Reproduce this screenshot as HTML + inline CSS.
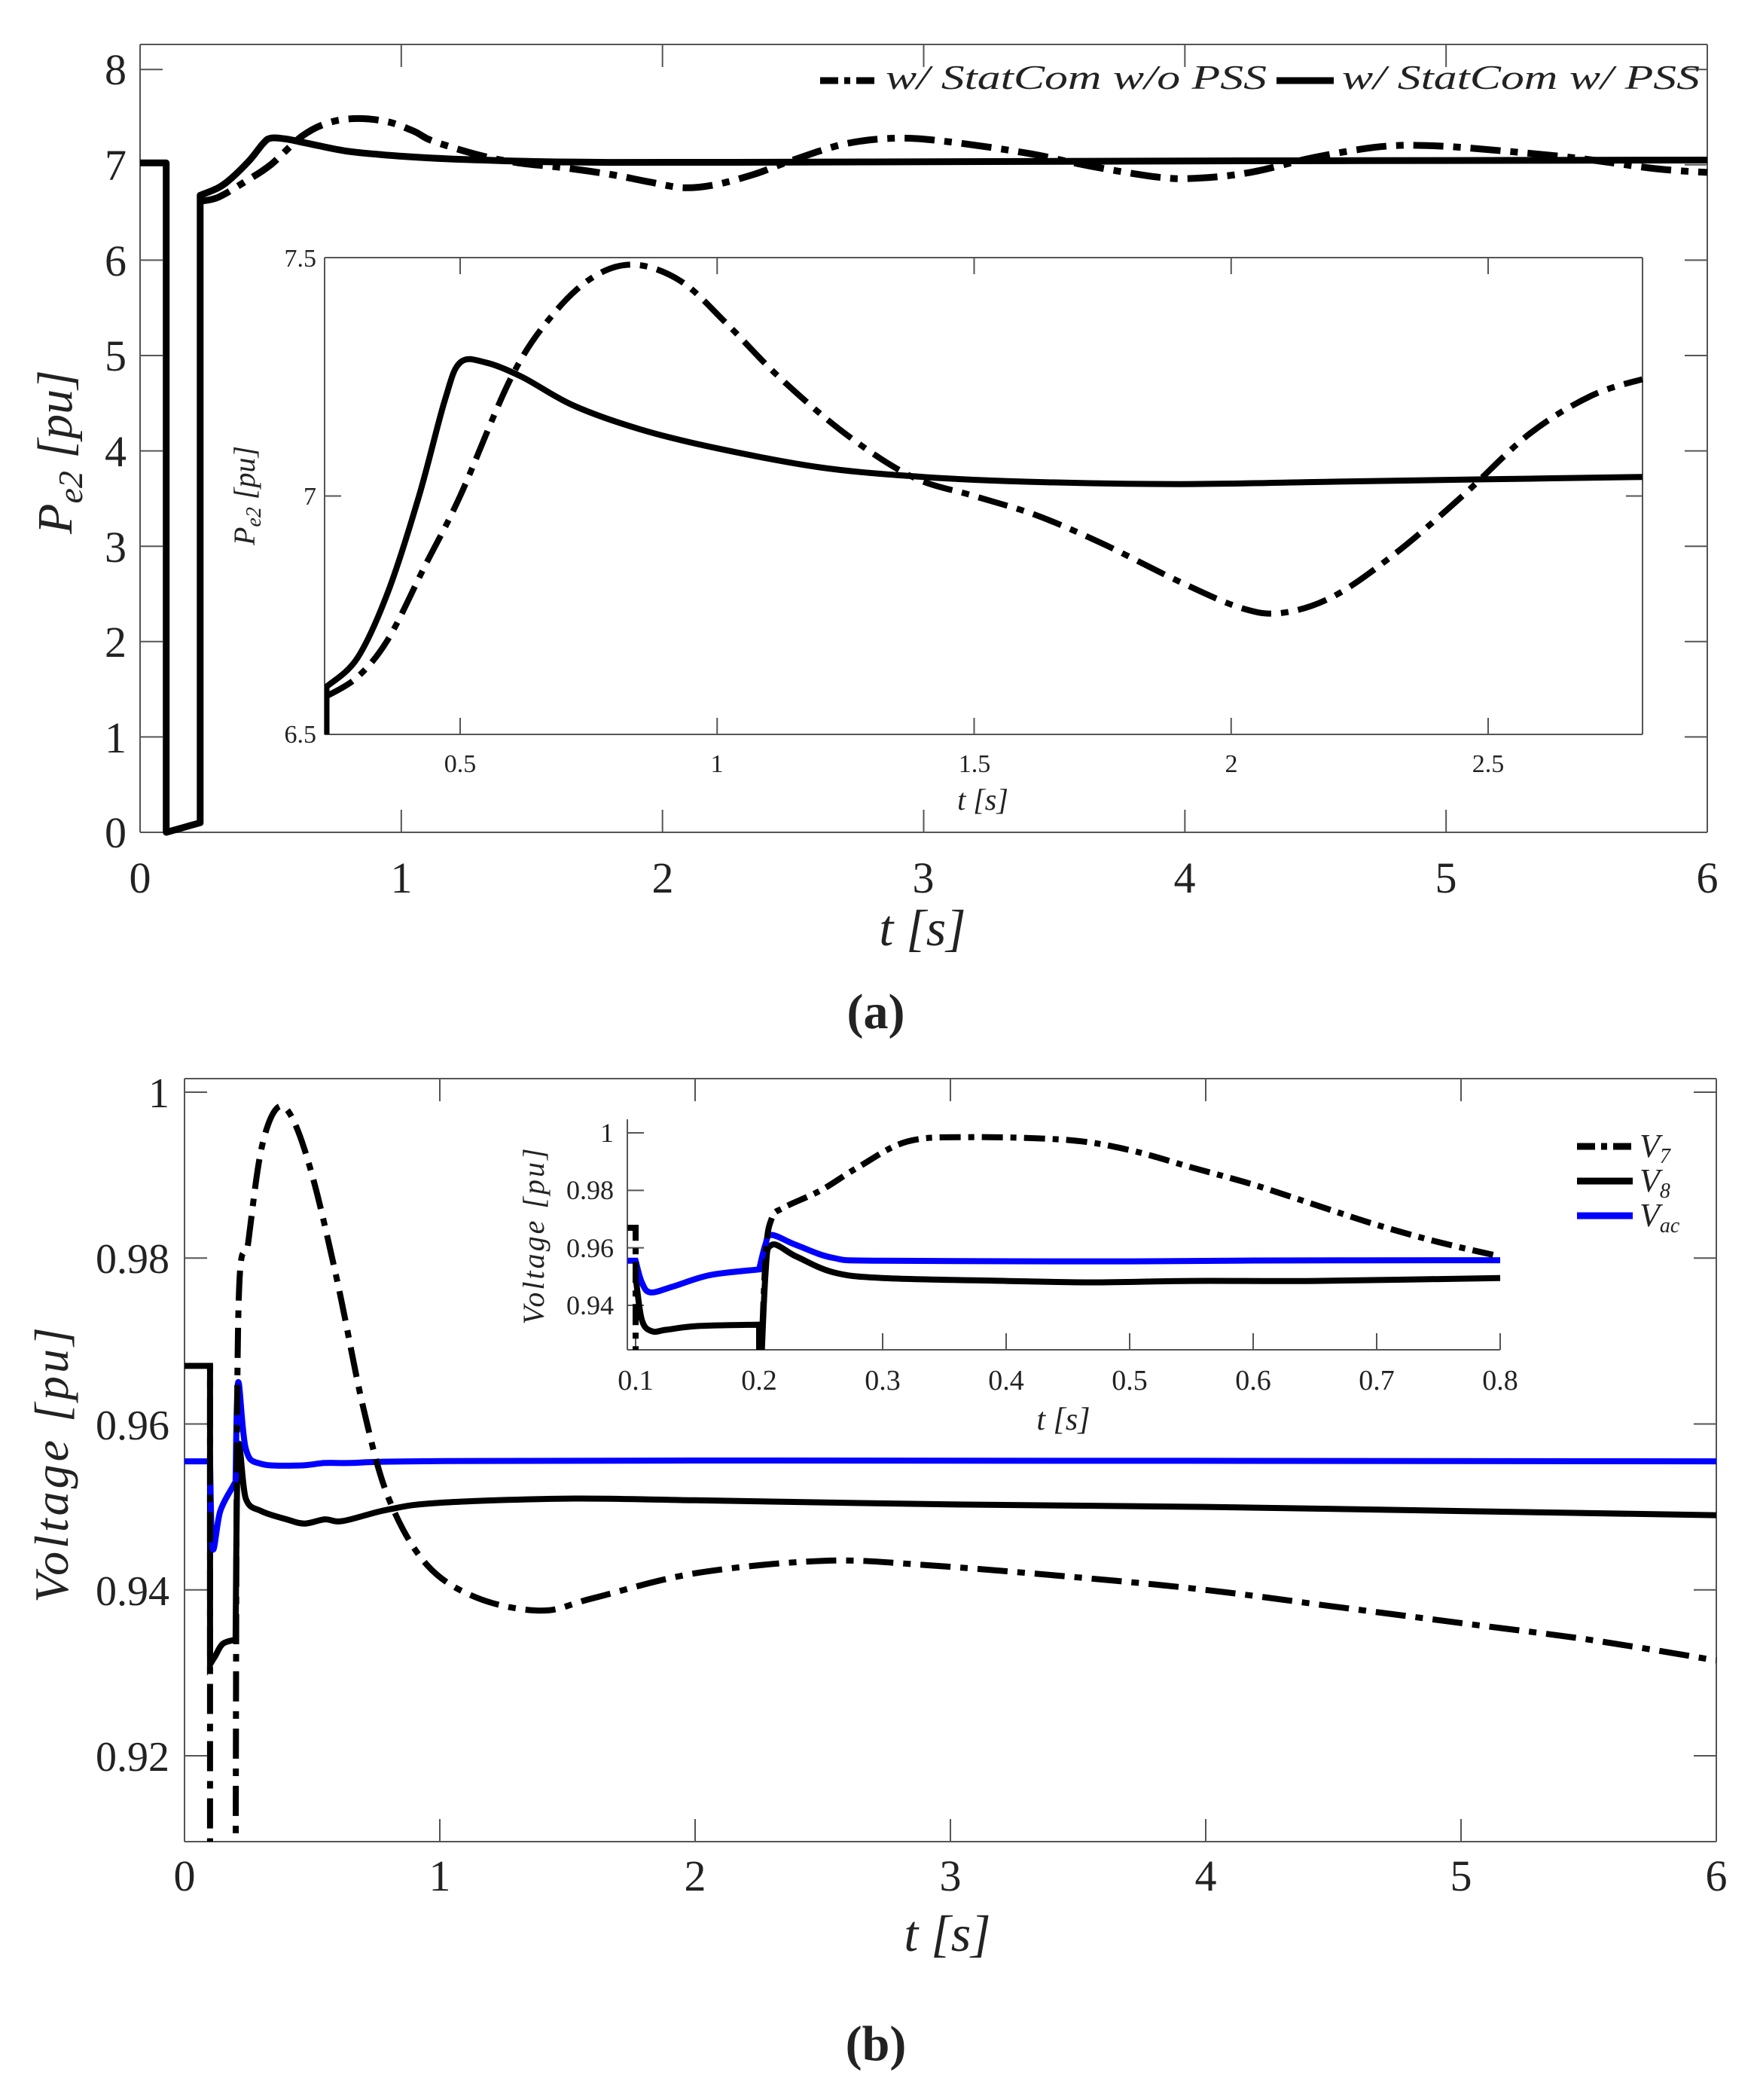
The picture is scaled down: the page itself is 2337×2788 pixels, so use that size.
<!DOCTYPE html>
<html><head><meta charset="utf-8">
<style>
html,body{margin:0;padding:0;background:#fff;}
svg{display:block;}
text{font-family:"Liberation Serif",serif;fill:#222;}
</style></head>
<body>
<svg id="s" width="2337" height="2788" viewBox="0 0 2337 2788" xmlns="http://www.w3.org/2000/svg">
<rect width="2337" height="2788" fill="#fff"/>
<g id="g"></g>
<!-- top texts -->
<g font-size="58" text-anchor="end">
<text x="168" y="1125">0</text><text x="168" y="999">1</text><text x="168" y="872">2</text><text x="168" y="746">3</text><text x="168" y="619">4</text><text x="168" y="492">5</text><text x="168" y="366">6</text><text x="168" y="239">7</text><text x="168" y="112">8</text>
</g>
<g font-size="58" text-anchor="middle">
<text x="186" y="1185">0</text><text x="533" y="1185">1</text><text x="880" y="1185">2</text><text x="1226" y="1185">3</text><text x="1573" y="1185">4</text><text x="1920" y="1185">5</text><text x="2267" y="1185">6</text>
</g>
<text x="1225" y="1255" font-size="68" text-anchor="middle" font-style="italic">t [s]</text>
<text transform="translate(95,600) rotate(-90)" font-size="66" text-anchor="middle" font-style="italic">P<tspan font-size="46" dy="14">e2</tspan><tspan dy="-14"> [pu]</tspan></text>
<text x="1163" y="1365" font-size="66" text-anchor="middle" font-weight="bold">(a)</text>
<text x="1176" y="118" font-size="46" font-style="italic" textLength="506" lengthAdjust="spacingAndGlyphs">w/ StatCom w/o PSS</text>
<text x="1782" y="118" font-size="46" font-style="italic" textLength="475" lengthAdjust="spacingAndGlyphs">w/ StatCom w/ PSS</text>
<line x1="1089" y1="107" x2="1166" y2="107" stroke="#000" stroke-width="9" stroke-dasharray="24 8 8 8"/>
<line x1="1695" y1="107" x2="1771" y2="107" stroke="#000" stroke-width="9"/>
<!-- inset a texts -->
<g font-size="34" text-anchor="end">
<text x="420" y="354">7.5</text><text x="420" y="670">7</text><text x="420" y="986">6.5</text>
</g>
<g font-size="34" text-anchor="middle">
<text x="611" y="1025">0.5</text><text x="952" y="1025">1</text><text x="1294" y="1025">1.5</text><text x="1635" y="1025">2</text><text x="1976" y="1025">2.5</text>
</g>
<text x="1305" y="1075" font-size="40" text-anchor="middle" font-style="italic">t [s]</text>
<text transform="translate(338,658) rotate(-90)" font-size="40" text-anchor="middle" font-style="italic">P<tspan font-size="28" dy="8">e2</tspan><tspan dy="-8"> [pu]</tspan></text>
<!-- bottom texts -->
<g font-size="56" text-anchor="end">
<text x="225" y="1470">1</text><text x="225" y="1690">0.98</text><text x="225" y="1911">0.96</text><text x="225" y="2131">0.94</text><text x="225" y="2351">0.92</text>
</g>
<g font-size="58" text-anchor="middle">
<text x="245" y="2510">0</text><text x="584" y="2510">1</text><text x="923" y="2510">2</text><text x="1262" y="2510">3</text><text x="1601" y="2510">4</text><text x="1940" y="2510">5</text><text x="2279" y="2510">6</text>
</g>
<text x="1258" y="2590" font-size="68" text-anchor="middle" font-style="italic">t [s]</text>
<text transform="translate(90,1943) rotate(-90)" font-size="64" text-anchor="middle" font-style="italic" letter-spacing="4">Voltage [pu]</text>
<text x="1163" y="2735" font-size="66" text-anchor="middle" font-weight="bold">(b)</text>
<!-- inset b texts -->
<g font-size="36" text-anchor="end">
<text x="815" y="1516">1</text><text x="815" y="1592">0.98</text><text x="815" y="1669">0.96</text><text x="815" y="1745">0.94</text>
</g>
<g font-size="38" text-anchor="middle">
<text x="844" y="1845">0.1</text><text x="1008" y="1845">0.2</text><text x="1172" y="1845">0.3</text><text x="1336" y="1845">0.4</text><text x="1500" y="1845">0.5</text><text x="1664" y="1845">0.6</text><text x="1828" y="1845">0.7</text><text x="1992" y="1845">0.8</text>
</g>
<text x="1412" y="1898" font-size="42" text-anchor="middle" font-style="italic">t [s]</text>
<text transform="translate(722,1640) rotate(-90)" font-size="40" text-anchor="middle" font-style="italic" letter-spacing="3">Voltage [pu]</text>
<g font-size="44" font-style="italic">
<text x="2177" y="1536">V<tspan font-size="28" dy="8">7</tspan></text>
<text x="2177" y="1582">V<tspan font-size="28" dy="8">8</tspan></text>
<text x="2177" y="1628">V<tspan font-size="28" dy="8">ac</tspan></text>
</g>
<line x1="2094" y1="1522" x2="2168" y2="1522" stroke="#000" stroke-width="9" stroke-dasharray="24 8 8 8"/>
<line x1="2094" y1="1568" x2="2168" y2="1568" stroke="#000" stroke-width="9"/>
<line x1="2094" y1="1614" x2="2168" y2="1614" stroke="#0000ff" stroke-width="9"/>
</svg>
<script>
var NS="http://www.w3.org/2000/svg",G=document.getElementById('g');
function el(n,a){var e=document.createElementNS(NS,n);for(var k in a)e.setAttribute(k,a[k]);G.appendChild(e);return e;}
function path(m,segs){
  var d="";
  segs.forEach(function(s,si){
    var p=s.map(function(q){return m(q[0],q[1]);});
    if(si==0)d+="M"+p[0][0].toFixed(1)+","+p[0][1].toFixed(1);
    else d+="L"+p[0][0].toFixed(1)+","+p[0][1].toFixed(1);
    for(var i=0;i<p.length-1;i++){
      var p0=p[i-1]||p[i],p1=p[i],p2=p[i+1],p3=p[i+2]||p[i+1];
      var c1=[p1[0]+(p2[0]-p0[0])/6,p1[1]+(p2[1]-p0[1])/6],c2=[p2[0]-(p3[0]-p1[0])/6,p2[1]-(p3[1]-p1[1])/6];
      d+="C"+c1[0].toFixed(1)+","+c1[1].toFixed(1)+" "+c2[0].toFixed(1)+","+c2[1].toFixed(1)+" "+p2[0].toFixed(1)+","+p2[1].toFixed(1);
    }
  });
  return d;
}
function frame(b,box){
  var c="#555";
  el('line',{x1:b.x0,y1:b.y1,x2:b.x1,y2:b.y1,stroke:c,'stroke-width':2});
  el('line',{x1:b.x0,y1:b.y0,x2:b.x0,y2:b.y1,stroke:c,'stroke-width':2});
  if(box){el('line',{x1:b.x0,y1:b.y0,x2:b.x1,y2:b.y0,stroke:c,'stroke-width':2});
  el('line',{x1:b.x1,y1:b.y0,x2:b.x1,y2:b.y1,stroke:c,'stroke-width':2});}
}
function ticks(m,xs,ys,b,L,box){
  xs.forEach(function(x){var p=m(x,0);el('line',{x1:p[0],y1:b.y1,x2:p[0],y2:b.y1-L,stroke:'#555','stroke-width':2});
    if(box)el('line',{x1:p[0],y1:b.y0,x2:p[0],y2:b.y0+L,stroke:'#555','stroke-width':2});});
  ys.forEach(function(y){var p=m(0,y);el('line',{x1:b.x0,y1:p[1],x2:b.x0+L,y2:p[1],stroke:'#555','stroke-width':2});
    if(box)el('line',{x1:b.x1,y1:p[1],x2:b.x1-L,y2:p[1],stroke:'#555','stroke-width':2});});
}
function clip(id,b){var c=el('clipPath',{id:id});var r=document.createElementNS(NS,'rect');r.setAttribute('x',b.x0);r.setAttribute('y',b.y0-6);r.setAttribute('width',b.x1-b.x0+6);r.setAttribute('height',b.y1-b.y0+6);c.appendChild(r);}
var DASH="40 13 10 13";
// ---------- TOP ----------
var A={x0:186,x1:2267,y0:59,y1:1105};
var mA=function(x,y){return [186+x/6*2081, 1105-y*126.6];};
frame(A,true);
ticks(mA,[0,1,2,3,4,5,6],[0,1,2,3,4,5,6,7,8],A,30,true);
var solid=[[[0,7.02],[0.1,7.02]],[[0.1,0.0],[0.23,0.1]],[[0.23,6.68],[0.3,6.76],[0.35,6.86],[0.42,7.05],[0.47,7.22],[0.5,7.28],[0.56,7.27],[0.65,7.22],[0.8,7.14],[1.0,7.09],[1.2,7.06],[1.5,7.035],[1.8,7.025],[2.2,7.026],[2.8,7.03],[4,7.04],[5,7.045],[6,7.05]]];
var dash=[[[0.235,6.62],[0.3,6.66],[0.4,6.82],[0.5,7.0],[0.62,7.3],[0.72,7.44],[0.83,7.485],[0.95,7.45],[1.05,7.35],[1.12,7.25],[1.3,7.1],[1.45,7.02],[1.62,6.97],[1.8,6.9],[1.95,6.82],[2.08,6.76],[2.2,6.79],[2.35,6.9],[2.5,7.05],[2.7,7.22],[2.9,7.28],[3.1,7.24],[3.4,7.12],[3.65,6.98],[3.9,6.87],[4.05,6.86],[4.25,6.92],[4.5,7.08],[4.75,7.19],[4.95,7.2],[5.2,7.15],[5.5,7.07],[5.8,6.96],[6,6.92]]];
el('path',{d:path(mA,solid),fill:'none',stroke:'#000','stroke-width':9,'stroke-linejoin':'round'});
el('path',{d:path(mA,dash),fill:'none',stroke:'#000','stroke-width':9,'stroke-dasharray':DASH});
// inset a
var B={x0:431,x1:2181,y0:342,y1:975};
el('rect',{x:431,y:342,width:1750,height:633,fill:'#fff'});
var mB=function(x,y){return [611+(x-0.5)*682.5, 975-(y-6.5)*633];};
frame(B,true);
ticks(mB,[0.5,1,1.5,2,2.5],[6.5,7,7.5],B,22,true);
clip('cb',B);
var sI=[[[0.24,6.5],[0.24,6.6]],[[0.24,6.6],[0.3,6.66],[0.36,6.8],[0.42,7.0],[0.47,7.2],[0.5,7.28],[0.55,7.28],[0.62,7.25],[0.72,7.19],[0.85,7.14],[1.0,7.1],[1.2,7.06],[1.4,7.04],[1.6,7.03],[1.9,7.025],[2.2,7.03],[2.5,7.035],[2.8,7.04]]];
var dI=[[[0.24,6.58],[0.3,6.62],[0.36,6.7],[0.43,6.85],[0.5,7.0],[0.6,7.25],[0.68,7.38],[0.76,7.46],[0.84,7.485],[0.93,7.45],[1.02,7.36],[1.12,7.25],[1.25,7.13],[1.38,7.04],[1.5,7.0],[1.62,6.96],[1.75,6.9],[1.9,6.82],[2.02,6.765],[2.1,6.755],[2.2,6.79],[2.32,6.88],[2.45,7.0],[2.58,7.13],[2.7,7.21],[2.8,7.245]]];
el('path',{d:path(mB,sI),fill:'none',stroke:'#000','stroke-width':8,'clip-path':'url(#cb)'});
el('path',{d:path(mB,dI),fill:'none',stroke:'#000','stroke-width':8,'stroke-dasharray':DASH,'clip-path':'url(#cb)'});
// ---------- BOTTOM ----------
var C={x0:245,x1:2279,y0:1432,y1:2445};
var mC=function(x,y){return [245+x/6*2034, 1450+(1-y)/0.08*881];};
frame(C,true);
ticks(mC,[0,1,2,3,4,5,6],[0.92,0.94,0.96,0.98,1],C,30,true);
clip('cc',C);
var V7=[[[0,0.967],[0.1,0.967]],[[0.1,0.905],[0.2,0.905]],[[0.2,0.905],[0.21,0.972],[0.25,0.982],[0.3,0.993],[0.36,0.998],[0.42,0.997],[0.5,0.99],[0.6,0.977],[0.7,0.962],[0.8,0.951],[0.95,0.943],[1.15,0.939],[1.4,0.9375],[1.6,0.939],[2.0,0.942],[2.5,0.9435],[2.9,0.943],[3.5,0.9415],[4,0.94],[4.5,0.938],[5,0.936],[5.5,0.934],[6,0.9315]]];
var V8=[[[0.1,0.967],[0.1,0.931]],[[0.1,0.931],[0.12,0.932],[0.15,0.9335],[0.2,0.934]],[[0.2,0.934],[0.21,0.957],[0.24,0.951],[0.3,0.9495],[0.4,0.9485],[0.47,0.948],[0.55,0.9485],[0.62,0.9483],[0.8,0.9497],[1.0,0.9505],[1.5,0.951],[2,0.9508],[3,0.9503],[4,0.95],[5,0.9495],[6,0.949]]];
var VAC=[[[0,0.9555],[0.1,0.9555]],[[0.1,0.9555],[0.11,0.945],[0.14,0.9495],[0.19,0.9525],[0.2,0.953]],[[0.2,0.953],[0.21,0.965],[0.24,0.957],[0.3,0.9552],[0.45,0.955],[0.55,0.9553],[0.65,0.9553],[0.9,0.9555],[2,0.9556],[6,0.9555]]];
el('path',{d:path(mC,V8),fill:'none',stroke:'#000','stroke-width':8,'clip-path':'url(#cc)'});
el('path',{d:path(mC,VAC),fill:'none',stroke:'#0000ff','stroke-width':8,'clip-path':'url(#cc)'});
el('path',{d:path(mC,V7),fill:'none',stroke:'#000','stroke-width':8,'stroke-dasharray':DASH,'clip-path':'url(#cc)'});
// inset b
var D={x0:833,x1:1992,y0:1486,y1:1792};
el('rect',{x:833,y:1486,width:1159,height:306,fill:'#fff'});
var mD=function(x,y){return [844+(x-0.1)/0.7*1148, 1504+(1-y)/0.06*229];};
frame(D,false);
ticks(mD,[0.1,0.2,0.3,0.4,0.5,0.6,0.7,0.8],[0.94,0.96,0.98,1],D,22,false);
clip('cd',D);
var V7i=[[[0.0935,0.967],[0.1,0.967]],[[0.1,0.9],[0.2,0.9]],[[0.2,0.9],[0.205,0.955],[0.21,0.97],[0.22,0.974],[0.25,0.98],[0.28,0.988],[0.32,0.997],[0.37,0.9985],[0.45,0.9975],[0.5,0.994],[0.55,0.988],[0.6,0.982],[0.65,0.975],[0.7,0.968],[0.75,0.962],[0.8,0.957]]];
var V8i=[[[0.1,0.95],[0.105,0.935],[0.113,0.931],[0.125,0.9315],[0.15,0.9328],[0.2,0.9333]],[[0.2,0.9],[0.205,0.95],[0.21,0.961],[0.23,0.957],[0.26,0.9515],[0.3,0.9495],[0.4,0.9485],[0.47,0.948],[0.55,0.9485],[0.65,0.9485],[0.8,0.9495]]];
var VACi=[[[0.0935,0.9555],[0.1,0.9555]],[[0.1,0.9555],[0.105,0.948],[0.112,0.9445],[0.13,0.9465],[0.16,0.9505],[0.2,0.9525]],[[0.2,0.9525],[0.205,0.961],[0.21,0.9645],[0.23,0.961],[0.26,0.9565],[0.3,0.9555],[0.5,0.9553],[0.6,0.9556],[0.8,0.9557]]];
el('path',{d:path(mD,V8i),fill:'none',stroke:'#000','stroke-width':8,'clip-path':'url(#cd)'});
el('path',{d:path(mD,VACi),fill:'none',stroke:'#0000ff','stroke-width':8,'clip-path':'url(#cd)'});
el('path',{d:path(mD,V7i),fill:'none',stroke:'#000','stroke-width':8,'stroke-dasharray':"28 10 8 10",'clip-path':'url(#cd)'});
</script>
</body></html>
